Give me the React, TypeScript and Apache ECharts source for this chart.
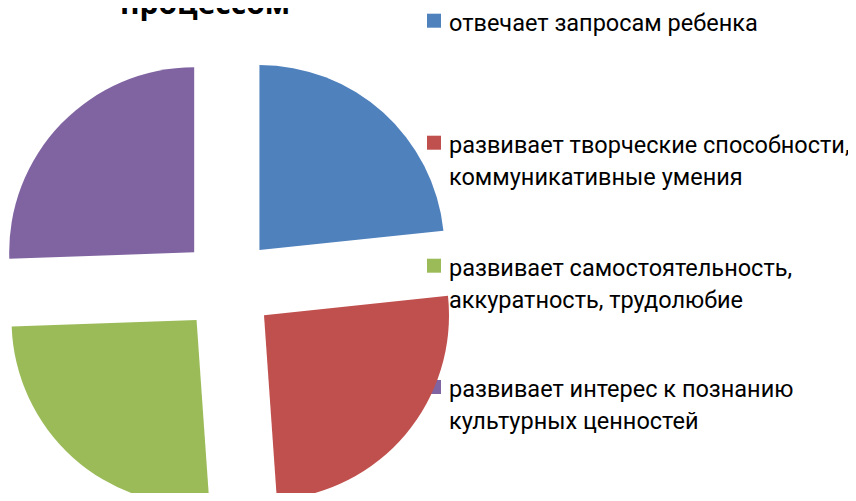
import React, { useEffect, useRef } from "react";
import * as echarts from "echarts";

const categories = [
  "отвечает запросам ребенка",
  "развивает творческие способности,\nкоммуникативные умения",
  "развивает самостоятельность,\nаккуратность, трудолюбие",
  "развивает интерес к познанию\nкультурных ценностей",
];
const values = [21, 23, 23, 23];
const colors = ["#4F81BD", "#C0504D", "#9BBB59", "#8064A2"];
const titleText = "процессом";

const FONT = "Roboto, 'Open Sans', sans-serif";

export default function App() {
  const ref = useRef<HTMLDivElement>(null);
  useEffect(() => {
    if (!ref.current) return;
    const chart = echarts.init(ref.current, undefined, { renderer: "svg" });
    const baselines = [27.7, 149.7, 272.7, 394];
    const legendEls: any[] = [];
    categories.forEach((c, i) => {
      const b = baselines[i];
      legendEls.push({
        type: "rect",
        shape: { x: 427, y: b - 14, width: 14, height: 14 },
        style: { fill: colors[i] },
      });
      legendEls.push({
        type: "text",
        x: 449,
        y: b - 21,
        style: {
          text: c,
          font: `23.5px ${FONT}`,
          fill: "#000",
          lineHeight: 32,
          align: "left",
          verticalAlign: "top",
        },
      });
    });
    chart.setOption({
      animation: false,
      backgroundColor: "#fff",
      graphic: [
        {
          type: "text",
          x: 205,
          y: -13,
          style: {
            text: titleText,
            font: `bold 30px 'Open Sans', sans-serif`,
            fill: "#000",
            align: "center",
            verticalAlign: "top",
          },
        },
        ...legendEls,
      ],
      series: [
        {
          type: "pie",
          center: [228, 285],
          radius: 185,
          startAngle: 90,
          clockwise: true,
          selectedMode: "multiple",
          selectedOffset: 47,
          label: { show: false },
          labelLine: { show: false },
          emphasis: { disabled: true },
          itemStyle: { borderWidth: 0 },
          data: categories.map((c, i) => ({
            name: c,
            value: values[i],
            selected: true,
            itemStyle: { color: colors[i] },
          })),
        },
      ],
    });
    return () => chart.dispose();
  }, []);
  return <div ref={ref} style={{ width: 856, height: 501, margin: -8 }} />;
}
